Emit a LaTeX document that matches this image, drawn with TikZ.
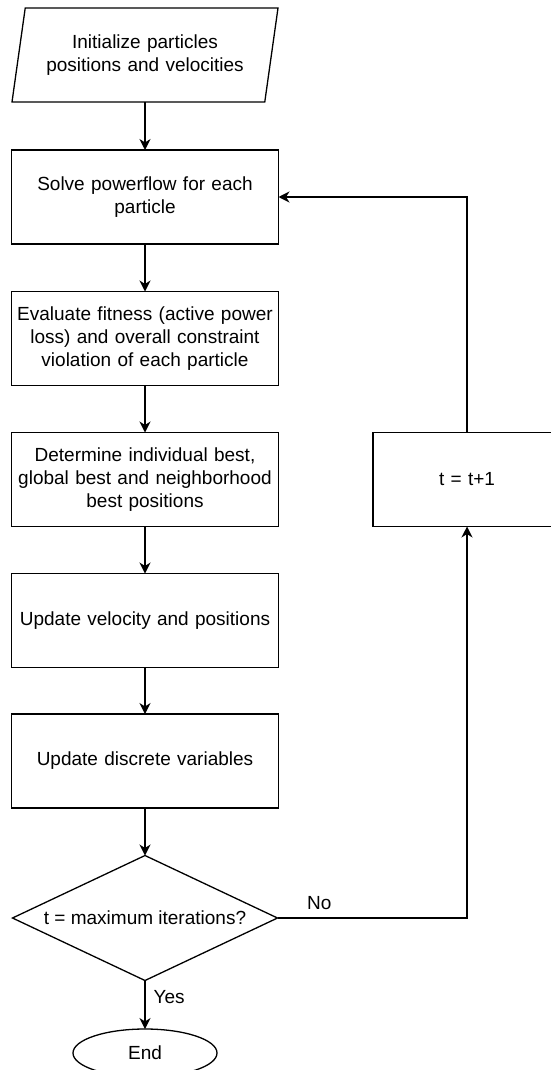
\documentclass[tikz,border=0pt]{standalone}
\usepackage{fontspec}
\setmainfont{Liberation Sans}
\usetikzlibrary{shapes.geometric,arrows.meta}

\begin{document}
\begin{tikzpicture}[x=1pt,y=-1pt,font=\fontsize{19}{23}\selectfont,
	shape line/.style={draw,line width=1.3pt,inner sep=0pt,outer sep=0pt},
	box/.style={shape line,minimum width=267pt,minimum height=94pt,text width=262pt,align=center},
	link/.style={line width=1.3pt,arrows={-{Stealth[length=11pt,width=11pt,inset=3.5pt]}}},
	tag/.style={inner sep=2pt}]
	\useasboundingbox (0,0) rectangle (550,1070);

	\node [shape line,trapezium,trapezium left angle=72,trapezium right angle=108,trapezium stretches body,
	minimum width=266pt,minimum height=94pt,text width=215pt,align=center] (init) at (145,55)
	{Initialize particles\\positions and velocities};
	\node [box] (solve) at (145,197) {Solve powerflow for each\\particle};
	\node [box] (evaluate) at (145,338.5) {Evaluate fitness (active power\\loss) and overall constraint\\violation of each particle};
	\node [box] (best) at (145,479.5) {Determine individual best,\\global best and neighborhood\\best positions};
	\node [box] (velocity) at (145,620.5) {Update velocity and positions};
	\node [box] (discrete) at (145,761) {Update discrete variables};
	\node [shape line,diamond,aspect=2.12,minimum width=265pt,minimum height=125pt] (check) at (145,918)
	{t = maximum iterations?};
	\node [shape line,ellipse,minimum width=144pt,minimum height=48pt] (finish) at (145,1053) {End};
	\node [box,minimum width=188pt,text width=170pt] (incr) at (467,479.5) {t = t+1};

	\draw [link] (init) -- (solve);
	\draw [link] (solve) -- (evaluate);
	\draw [link] (evaluate) -- (best);
	\draw [link] (best) -- (velocity);
	\draw [link] (velocity) -- (discrete);
	\draw [link] (discrete) -- (check);
	\draw [link] (check) -- node [tag,pos=0.35,right=6pt] {Yes} (finish);
	\draw [link] (check) -| node [tag,pos=0.11,above=6pt] {No} (incr);
	\draw [link] (incr) |- (solve);
\end{tikzpicture}
\end{document}
